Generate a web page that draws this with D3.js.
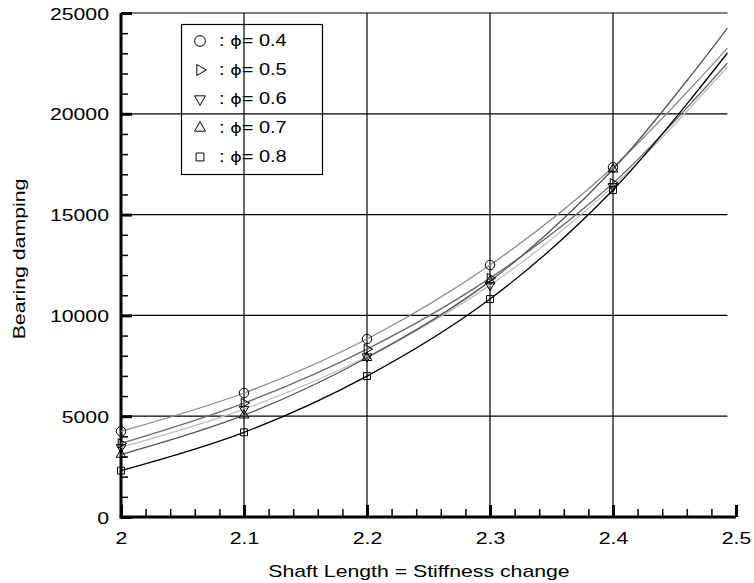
<!DOCTYPE html>
<html>
<head>
	<title>Bearing damping</title>
	<style type="text/css">
		body {
			margin: 0;
			background: #fff;
		}
		svg {
			display: block;
			font-family: "Liberation Sans", Arial, sans-serif;
		}
		.curve {
			fill: none;
			stroke-width: 1.3px;
		}
		.marker {
			fill: none;
			stroke: #000;
			stroke-width: 1px;
		}
	</style>
	<script src="https://d3js.org/d3.v7.min.js"></script>
</head>
<body>
<script type="text/javascript">
	// x positions of the computed points (last one is where the curves stop)
	var shaftLength = [2.0, 2.1, 2.2, 2.3, 2.4, 2.493];
	var markerCount = 5; // markers only at 2.0 .. 2.4

	var phi04 = [4250, 6150, 8830, 12500, 17350, 23260];
	var phi05 = [3650, 5650, 8330, 11850, 16550, 22520];
	var phi06 = [3450, 5350, 7950, 11500, 16400, 22320];
	var phi07 = [3100, 5050, 7900, 11700, 17250, 24255];
	var phi08 = [2300, 4200, 6990, 10810, 16220, 23015];

	var xTicks = [2, 2.1, 2.2, 2.3, 2.4, 2.5];
	var yTicks = [0, 5000, 10000, 15000, 20000, 25000];

	var series = [
		{label: "0.4", symbol: d3.symbolCircle, values: phi04, color: "#8a8a8a"},
		{label: "0.5", symbol: "right", values: phi05, color: "#6a6a6a"},
		{label: "0.6", symbol: "down", values: phi06, color: "#bdbdbd"},
		{label: "0.7", symbol: "up", values: phi07, color: "#555555"},
		{label: "0.8", symbol: d3.symbolSquare, values: phi08, color: "#000000"}
	];

	var stretch = 1.25; // the original lettering is wide

	var svg = d3.select("body").append("svg")
		.attr("width", 754)
		.attr("height", 583);

	var x = d3.scaleLinear().domain([2, 2.5]).range([121, 736]),
		y = d3.scaleLinear().domain([0, 25000]).range([517, 13]);

	var gridRight = x(2.493);

	// grid
	svg.append("g").selectAll("line.hgrid")
		.data(yTicks.slice(1))
		.enter().append("line")
			.attr("x1", x(2)).attr("x2", gridRight)
			.attr("y1", function(d) { return y(d); })
			.attr("y2", function(d) { return y(d); })
			.attr("stroke", "#000").attr("stroke-width", 1.2);

	svg.append("g").selectAll("line.vgrid")
		.data(xTicks.slice(1, 5))
		.enter().append("line")
			.attr("x1", function(d) { return x(d); })
			.attr("x2", function(d) { return x(d); })
			.attr("y1", y(25000)).attr("y2", y(0))
			.attr("stroke", "#000").attr("stroke-width", 1.2);

	// minor ticks
	var yMinor = d3.range(0, 25001, 1000).filter(function(v) { return v % 5000 !== 0; });
	var xMinor = d3.range(0, 26).map(function(i) { return 2 + i * 0.02; })
		.filter(function(v, i) { return i % 5 !== 0; });

	svg.append("g")
		.attr("transform", "translate(" + x(2) + ",0)")
		.call(d3.axisLeft(y).tickValues(yMinor).tickSize(-7).tickFormat(""))
		.call(function(g) { g.select(".domain").remove(); })
		.selectAll("line").attr("stroke-width", 1.5);

	svg.append("g")
		.attr("transform", "translate(0," + y(0) + ")")
		.call(d3.axisBottom(x).tickValues(xMinor).tickSize(-8).tickFormat(""))
		.call(function(g) { g.select(".domain").remove(); })
		.selectAll("line").attr("stroke-width", 1.5);

	// major axes
	var axisY = d3.axisLeft(y).tickValues(yTicks).tickSize(-11).tickPadding(12)
		.tickFormat(d3.format("d"));
	var gy = svg.append("g")
		.attr("transform", "translate(" + x(2) + ",0)")
		.call(axisY);
	gy.attr("font-family", null).attr("font-size", 17);
	gy.select(".domain").attr("d", "M0," + y(0) + "V" + y(25000)).attr("stroke-width", 3);
	gy.selectAll(".tick line").attr("stroke-width", 3);
	gy.selectAll(".tick text")
		.attr("x", -12 / stretch)
		.attr("dy", "0.36em")
		.attr("transform", "scale(" + stretch + ",1)");

	var axisX = d3.axisBottom(x).tickValues(xTicks).tickSize(-12).tickPadding(15)
		.tickFormat(function(d) { return d === 2 ? "2" : d3.format(".1f")(d); });
	var gx = svg.append("g")
		.attr("transform", "translate(0," + y(0) + ")")
		.call(axisX);
	gx.attr("font-family", null).attr("font-size", 17);
	gx.select(".domain").attr("d", "M" + (x(2) - 1.5) + ",0H" + x(2.5)).attr("stroke-width", 3);
	gx.selectAll(".tick line").attr("stroke-width", 3);
	gx.selectAll(".tick text").attr("transform", "scale(" + stretch + ",1)");

	// axis titles
	svg.append("text")
		.attr("transform", "translate(419,577) scale(" + stretch + ",1)")
		.attr("text-anchor", "middle")
		.style("font-size", "17px")
		.text("Shaft Length = Stiffness change");

	svg.append("text")
		.attr("transform", "translate(25,259) rotate(-90) scale(" + stretch + ",1)")
		.attr("text-anchor", "middle")
		.style("font-size", "17px")
		.text("Bearing damping");

	// curves
	var line = d3.line()
		.x(function(d, i) { return x(shaftLength[i]); })
		.y(function(d) { return y(d); })
		.curve(d3.curveCatmullRom.alpha(0.5));

	svg.append("g").selectAll("path.curve")
		.data(series)
		.enter().append("path")
			.attr("class", "curve")
			.attr("stroke", function(d) { return d.color; })
			.attr("d", function(d) { return line(d.values); });

	// markers
	function markerPath(sym, big) {
		var k = big ? 1.3 : 1;
		if (sym === "right" || sym === "down" || sym === "up") {
			return d3.symbol().type(d3.symbolTriangle).size(40 * k)();
		}
		return d3.symbol().type(sym).size((sym === d3.symbolCircle ? 70 : 48) * k)();
	}
	function markerRotate(sym) {
		if (sym === "right") return 90;
		if (sym === "down") return 180;
		return 0;
	}

	series.forEach(function(s) {
		svg.append("g").selectAll("path.marker")
			.data(s.values.slice(0, markerCount))
			.enter().append("path")
				.attr("class", "marker")
				.attr("d", markerPath(s.symbol, false))
				.attr("transform", function(d, i) {
					return "translate(" + x(shaftLength[i]) + "," + y(d) + ") rotate(" + markerRotate(s.symbol) + ")";
				});
	});

	// legend
	var legend = svg.append("g");
	legend.append("rect")
		.attr("x", 181.5).attr("y", 24.5)
		.attr("width", 141).attr("height", 150)
		.attr("fill", "none").attr("stroke", "#000").attr("stroke-width", 1.2);

	var item = legend.selectAll("g.item")
		.data(series)
		.enter().append("g")
			.attr("transform", function(d, i) { return "translate(0," + (40 + i * 29) + ")"; });

	item.append("path")
		.attr("class", "marker")
		.attr("d", function(d) { return markerPath(d.symbol, true); })
		.attr("transform", function(d) { return "translate(200,1) rotate(" + markerRotate(d.symbol) + ")"; });

	var label = item.append("text")
		.attr("transform", "translate(219,0) scale(" + stretch + ",1)")
		.attr("dy", "0.36em")
		.style("font-size", "16px");
	label.append("tspan").text(": ");
	label.append("tspan")
		.style("font-family", "'DejaVu Sans', sans-serif")
		.style("font-size", "14px")
		.text("\u03d5");
	label.append("tspan").text(function(d) { return "= " + d.label; });
</script>
</body>
</html>
